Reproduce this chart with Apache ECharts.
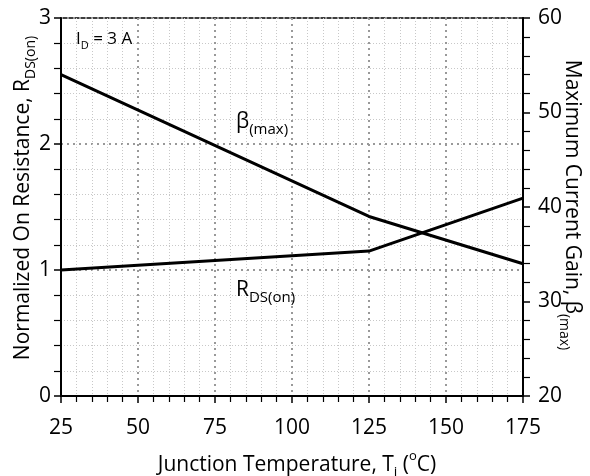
<!DOCTYPE html>
<html>
<head>
<meta charset="utf-8">
<script src="https://cdn.jsdelivr.net/npm/echarts@6/dist/echarts.min.js"></script>
<style>
html,body{margin:0;padding:0;background:#fff;}
#chart{width:590px;height:476px;}
</style>
</head>
<body>
<div id="chart"></div>
<script>
// Data
const temperatures = [25, 125, 175];
const rdsOn = [1.0, 1.15, 1.57];          // left axis, normalized
const betaMaxTemps = [25, 125, 175];
const betaMax = [54, 39, 34];             // right axis, current gain
const xTicks = [25, 50, 75, 100, 125, 150, 175];
const leftTicks = [0, 1, 2, 3];
const rightTicks = [20, 30, 40, 50, 60];

const FONT = '"Open Sans", "DejaVu Sans", sans-serif';
const chart = echarts.init(document.getElementById('chart'));

const rich = {
  m: {fontSize: 21, fontFamily: FONT, color: '#000', lineHeight: 26, verticalAlign: 'bottom'},
  s: {fontSize: 14, fontFamily: FONT, color: '#000', lineHeight: 16, verticalAlign: 'bottom', padding: [0,0,-4,0]},
  sup: {fontSize: 13, fontFamily: FONT, color: '#000', lineHeight: 26, verticalAlign: 'top'},
  pm: {fontSize: 17, fontFamily: FONT, color: '#000', lineHeight: 22, verticalAlign: 'bottom'},
  ps: {fontSize: 11, fontFamily: FONT, color: '#000', lineHeight: 13, verticalAlign: 'bottom', padding: [0,0,-3,0]},
  lm: {fontSize: 21, fontFamily: FONT, color: '#000', lineHeight: 26, verticalAlign: 'bottom'},
  ls: {fontSize: 15, fontFamily: FONT, color: '#000', lineHeight: 17, verticalAlign: 'bottom', padding: [0,0,-4,0]}
};

const gridL = 61, gridT = 18, gridR = 67, gridB = 80;

chart.setOption({
  animation: false,
  backgroundColor: '#fff',
  grid: {left: gridL, right: gridR, top: gridT, bottom: gridB, show: true, borderColor: '#000', borderWidth: 1.5, backgroundColor: 'transparent'},
  xAxis: {
    type: 'value', min: xTicks[0], max: xTicks[xTicks.length-1], interval: 25,
    axisLine: {show: true, onZero: false, lineStyle: {color: '#000', width: 2}},
    axisTick: {show: true, length: 7, lineStyle: {color: '#000', width: 1.5}},
    minorTick: {show: true, splitNumber: 5, length: 6, lineStyle: {color: '#000', width: 1.2}},
    axisLabel: {fontSize: 21, fontFamily: FONT, color: '#000', margin: 22},
    splitLine: {show: true, lineStyle: {color: '#999', type: [2, 4], width: 2}},
    minorSplitLine: {show: true, lineStyle: {color: '#c8c8c8', type: [1, 2], width: 1}}
  },
  yAxis: [{
    type: 'value', min: leftTicks[0], max: leftTicks[leftTicks.length-1], interval: 1,
    axisLine: {show: true, lineStyle: {color: '#000', width: 2}},
    axisTick: {show: true, length: 7, lineStyle: {color: '#000', width: 1.5}},
    minorTick: {show: true, splitNumber: 5, length: 7, lineStyle: {color: '#000', width: 1.2}},
    axisLabel: {fontSize: 21, fontFamily: FONT, color: '#000', margin: 10},
    splitLine: {show: true, lineStyle: {color: '#999', type: [2, 4], width: 2}},
    minorSplitLine: {show: true, lineStyle: {color: '#c8c8c8', type: [1, 2], width: 1}}
  }, {
    type: 'value', position: 'right', min: rightTicks[0], max: rightTicks[rightTicks.length-1], interval: 10,
    axisLine: {show: true, lineStyle: {color: '#000', width: 2}},
    axisTick: {show: true, length: 7, lineStyle: {color: '#000', width: 1.5}},
    minorTick: {show: true, splitNumber: 5, length: 7, lineStyle: {color: '#000', width: 1.2}},
    axisLabel: {fontSize: 21, fontFamily: FONT, color: '#000', margin: 15},
    splitLine: {show: false}
  }],
  series: [{
    name: 'RDS(on)', type: 'line', yAxisIndex: 0, symbol: 'none',
    lineStyle: {color: '#000', width: 3},
    data: temperatures.map((t, i) => [t, rdsOn[i]])
  }, {
    name: 'beta(max)', type: 'line', yAxisIndex: 1, symbol: 'none',
    lineStyle: {color: '#000', width: 3},
    data: betaMaxTemps.map((t, i) => [t, betaMax[i]])
  }],
  graphic: [
    {type: 'text', left: 76, top: 31, z: 10, style: {text: '{pm|I}{ps|D}{pm| = 3 A}', rich: rich}},
    {type: 'text', left: 236, top: 112, z: 10, style: {text: '{lm|β}{ls|(max)}', rich: rich}},
    {type: 'text', left: 236, top: 280, z: 10, style: {text: '{lm|R}{ls|DS(on)}', rich: rich}},
    {type: 'text', x: 297, y: 463, z: 10, style: {text: '{m|Junction Temperature, T}{s|j}{m| (}{sup|o}{m|C)}', rich: rich, align: 'center', verticalAlign: 'middle'}},
    {type: 'text', x: 21, y: 198, rotation: Math.PI/2, z: 10, style: {text: '{m|Normalized On Resistance, R}{s|DS(on)}', rich: rich, align: 'center', verticalAlign: 'middle'}},
    {type: 'text', x: 574, y: 205, rotation: -Math.PI/2, z: 10, style: {text: '{m|Maximum Current Gain, β}{s|(max)}', rich: rich, align: 'center', verticalAlign: 'middle'}}
  ]
});
</script>
</body>
</html>
